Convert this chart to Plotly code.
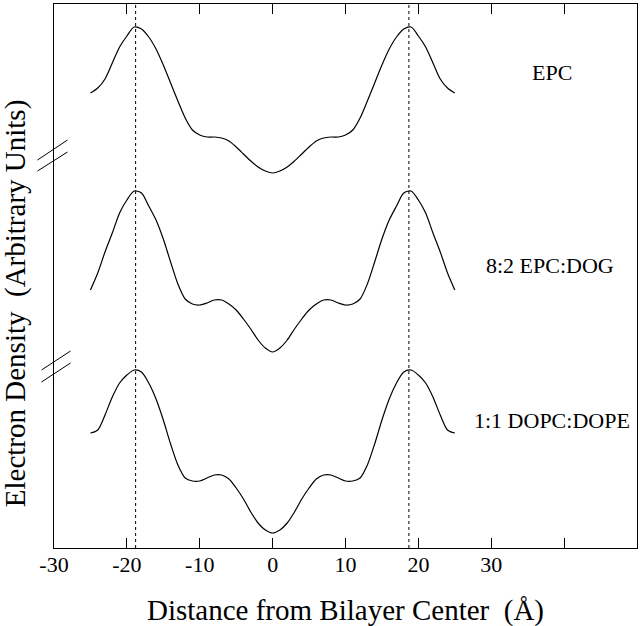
import plotly.graph_objects as go

# ---- data ----
distance = list(range(-25, 26))

epc = [80, 85, 94, 110, 126, 137, 146, 144, 136, 124, 108, 90, 72, 55, 43, 38, 36, 36, 35, 32, 26, 19, 12, 6, 2,
       0,
       2, 6, 12, 19, 26, 32, 35, 36, 36, 38, 43, 55, 72, 90, 108, 124, 136, 144, 146, 137, 126, 110, 94, 85, 80]
epc_dog = [62, 79, 100, 119, 139, 152, 161, 159, 146, 132, 113, 90, 68, 53, 48, 47, 49, 52, 52, 48, 42, 33, 23, 12, 4,
           0,
           4, 12, 23, 33, 42, 48, 52, 52, 49, 47, 48, 53, 68, 90, 113, 132, 146, 159, 161, 152, 139, 119, 100, 79, 62]
dopc_dope = [100, 103, 118, 136, 150, 158, 163, 161, 150, 134, 113, 89, 68, 55, 52, 52, 55, 58, 58, 54, 45, 34, 21, 10, 3,
             0,
             3, 10, 21, 34, 45, 54, 58, 58, 55, 52, 52, 55, 68, 89, 113, 134, 150, 161, 163, 158, 150, 136, 118, 103, 100]

series_names = ["EPC", "8:2 EPC:DOG", "1:1 DOPC:DOPE"]
series_values = [epc, epc_dog, dopc_dope]
peak_positions = [-18.8, 18.7]

tick_vals = [-30, -20, -10, 0, 10, 20, 30, 40]
tick_text = ["-30", "-20", "-10", "0", "10", "20", "30", ""]

# ---- layout/style ----
offsets = [375, 196, 15]
label_pos = [(38.3, 476), (38.1, 283), (38.3, 128)]
FONT = "Liberation Serif, Times New Roman, Times, serif"

fig = go.Figure()
for name, vals, off in zip(series_names, series_values, offsets):
    fig.add_trace(go.Scatter(
        x=distance, y=[v + off for v in vals], mode="lines", name=name,
        line=dict(color="black", width=1.2, shape="spline", smoothing=0.8),
        showlegend=False, hoverinfo="skip"))

for name, (lx, ly) in zip(series_names, label_pos):
    fig.add_annotation(x=lx, y=ly, xref="x", yref="y", text=name, showarrow=False,
                       font=dict(family=FONT, size=22, color="black"),
                       xanchor="center", yanchor="middle")

for p in peak_positions:
    fig.add_shape(type="line", x0=p, x1=p, y0=0, y1=1, xref="x", yref="paper",
                  line=dict(color="black", width=1, dash="dot"))

# axis break marks (paper coords)
def px_to_paper(px, py):
    return (px - 54.5) / 582.5, (548 - py) / 544

for (a, b) in [((38, 160), (68, 140)), ((38, 171), (68, 152)),
               ((42, 370), (71, 351)), ((42, 382), (71, 363))]:
    x0, y0 = px_to_paper(*a)
    x1, y1 = px_to_paper(*b)
    fig.add_shape(type="line", x0=x0, y0=y0, x1=x1, y1=y1, xref="paper", yref="paper",
                  line=dict(color="black", width=1))

fig.add_annotation(x=0.5, y=0, xref="paper", yref="paper", yshift=-62,
                   text="Distance from Bilayer Center  (Å)", showarrow=False,
                   font=dict(family=FONT, size=29, color="black"),
                   xanchor="center", yanchor="middle")
fig.add_annotation(x=0, y=0.45, xref="paper", yref="paper", xshift=-39,
                   text="Electron Density  (Arbitrary Units)", showarrow=False, textangle=-90,
                   font=dict(family=FONT, size=29, color="black"),
                   xanchor="center", yanchor="middle")

fig.update_layout(
    width=640, height=626,
    margin=dict(l=54, r=3, t=4, b=78),
    paper_bgcolor="white", plot_bgcolor="white",
    xaxis=dict(range=[-30, 50], tickvals=tick_vals, ticktext=tick_text,
               ticks="inside", ticklen=10, tickwidth=1, tickcolor="black",
               showline=True, linecolor="black", linewidth=1.3, mirror="ticks",
               showgrid=False, zeroline=False, ticklabelstandoff=-4,
               tickfont=dict(family=FONT, size=22, color="black")),
    yaxis=dict(range=[0, 544], showticklabels=False, ticks="",
               showline=True, linecolor="black", linewidth=1.3, mirror=True,
               showgrid=False, zeroline=False),
)

fig.write_html("out.html", config={"displayModeBar": False},
               post_script="document.body.style.margin='0px';document.body.style.padding='0px';")
